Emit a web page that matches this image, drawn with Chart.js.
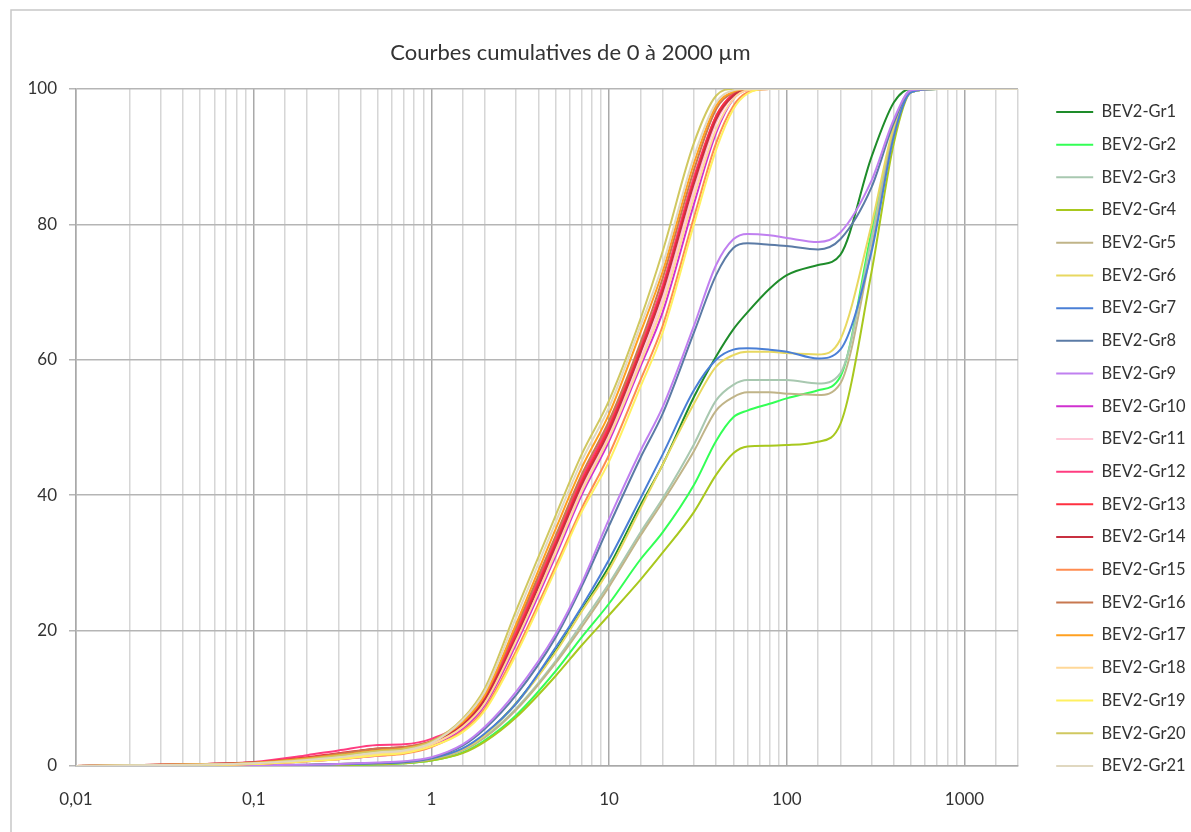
<!DOCTYPE html>
<html>
<head>
<meta charset="utf-8">
<script src="https://cdn.jsdelivr.net/npm/chart.js@4.4.0/dist/chart.umd.min.js"></script>
<style>
    body { margin: 0; background: #fff; }
    #wrap { width: 1191px; height: 832px; position: relative; }
</style>
</head>
<body>
<div id="wrap"><canvas id="GranuloChart"></canvas></div>
<script>

// tailles (µm)
var sizes = [0.01, 0.02, 0.05, 0.1, 0.2, 0.3, 0.5, 0.7, 1, 1.5, 2, 3, 5, 7, 10, 15, 20, 30, 40, 50, 60, 80, 100, 150, 200, 300, 400, 500, 700, 1000, 2000];

var seriesNames = ['BEV2-Gr1', 'BEV2-Gr2', 'BEV2-Gr3', 'BEV2-Gr4', 'BEV2-Gr5', 'BEV2-Gr6', 'BEV2-Gr7',
    'BEV2-Gr8', 'BEV2-Gr9', 'BEV2-Gr10', 'BEV2-Gr11', 'BEV2-Gr12', 'BEV2-Gr13', 'BEV2-Gr14',
    'BEV2-Gr15', 'BEV2-Gr16', 'BEV2-Gr17', 'BEV2-Gr18', 'BEV2-Gr19', 'BEV2-Gr20', 'BEV2-Gr21'];

// % cumulés
var gr1 = [0, 0.02, 0.05, 0.1, 0.15, 0.25, 0.4, 0.55, 1.0, 2.5, 4.7, 9.3, 17, 23, 29.5, 38.5, 44.5, 54.5, 60.5, 64.5, 67, 70.5, 72.5, 74, 75.5, 90, 98, 100, 100, 100, 100];
var gr2 = [0, 0.01, 0.03, 0.05, 0.1, 0.15, 0.25, 0.4, 0.8, 2.0, 3.8, 7.5, 14, 19, 24, 30.5, 34.5, 41.5, 48, 51.5, 52.5, 53.5, 54.3, 55.5, 57.5, 79, 94, 99.5, 100, 100, 100];
var gr3 = [0, 0.02, 0.05, 0.1, 0.15, 0.25, 0.4, 0.5, 1.0, 2.3, 4.3, 8.5, 15.5, 21, 27, 34.5, 39.5, 47.5, 54, 56.3, 57, 57, 57, 56.5, 58, 78, 94, 99.5, 100, 100, 100];
var gr4 = [0, 0.01, 0.03, 0.05, 0.1, 0.15, 0.25, 0.4, 0.8, 1.9, 3.6, 7.2, 13.3, 17.8, 22.3, 27.5, 31.5, 37.5, 43, 46.2, 47.2, 47.3, 47.4, 47.9, 50.5, 73, 92, 99.5, 100, 100, 100];
var gr5 = [0, 0.02, 0.05, 0.1, 0.15, 0.25, 0.4, 0.5, 1.0, 2.3, 4.2, 8.3, 15.2, 20.5, 26.5, 34, 39, 46.5, 52.5, 54.5, 55.2, 55.2, 55, 54.8, 56.5, 76.5, 93.5, 99.5, 100, 100, 100];
var gr6 = [0, 0.02, 0.05, 0.1, 0.2, 0.3, 0.45, 0.6, 1.1, 2.5, 4.6, 9.2, 16.8, 22.8, 29, 38, 44.5, 53.5, 59, 60.7, 61.2, 61.2, 61, 60.8, 63, 80, 94.5, 99.5, 100, 100, 100];
var gr7 = [0, 0.02, 0.05, 0.1, 0.15, 0.25, 0.4, 0.55, 1.1, 2.6, 4.8, 9.2, 17.5, 23.5, 30.5, 39.5, 46, 55.5, 60, 61.5, 61.7, 61.5, 61.2, 60.2, 61.5, 76, 93, 99.5, 100, 100, 100];
var gr8 = [0, 0.02, 0.05, 0.1, 0.2, 0.3, 0.45, 0.6, 1.2, 3.0, 5.5, 10.5, 19, 26.5, 35.5, 45.5, 52, 64, 72.5, 76.5, 77.2, 77, 76.8, 76.3, 77.8, 85.5, 95, 99.8, 100, 100, 100];
var gr9 = [0, 0.02, 0.05, 0.1, 0.2, 0.3, 0.5, 0.7, 1.3, 3.2, 5.8, 11, 19.5, 27, 36.5, 46.5, 53, 65, 74, 77.8, 78.6, 78.4, 78, 77.4, 78.8, 86.5, 95.5, 99.8, 100, 100, 100];
var gr10 = [0, 0.05, 0.15, 0.3, 0.7, 1.0, 1.5, 1.9, 3.0, 5.5, 9.0, 18, 31, 40, 48, 59, 67, 83, 93.5, 98.5, 99.8, 100, 100, 100, 100, 100, 100, 100, 100, 100, 100];
var gr11 = [0, 0.05, 0.2, 0.35, 0.8, 1.2, 1.8, 2.1, 3.2, 5.8, 9.5, 19, 32, 41, 49, 60, 69, 85, 95, 99, 99.9, 100, 100, 100, 100, 100, 100, 100, 100, 100, 100];
var gr12 = [0, 0.1, 0.3, 0.6, 1.6, 2.3, 3.1, 3.2, 4.0, 6.5, 10.5, 20, 33.5, 42.5, 50.5, 62, 71, 87, 96, 99.3, 100, 100, 100, 100, 100, 100, 100, 100, 100, 100, 100];
var gr13 = [0, 0.1, 0.3, 0.5, 1.3, 1.9, 2.6, 2.8, 3.6, 6.2, 10, 19.5, 33, 42, 50, 61.5, 70.5, 86.5, 96, 99.2, 100, 100, 100, 100, 100, 100, 100, 100, 100, 100, 100];
var gr14 = [0, 0.1, 0.3, 0.5, 1.2, 1.8, 2.5, 2.7, 3.5, 6.0, 9.8, 19, 32.5, 41.5, 49.5, 61, 70, 86, 95.5, 99, 99.9, 100, 100, 100, 100, 100, 100, 100, 100, 100, 100];
var gr15 = [0, 0.05, 0.15, 0.3, 0.7, 1.0, 1.5, 1.8, 2.8, 5.2, 8.5, 17, 29.5, 38, 46, 57, 65, 81, 92, 97.5, 99.5, 100, 100, 100, 100, 100, 100, 100, 100, 100, 100];
var gr16 = [0, 0.1, 0.3, 0.5, 1.2, 1.8, 2.6, 2.8, 3.7, 6.5, 10.5, 20.5, 34, 43, 51, 62.5, 72, 88, 97, 99.5, 100, 100, 100, 100, 100, 100, 100, 100, 100, 100, 100];
var gr17 = [0, 0.1, 0.25, 0.45, 1.1, 1.6, 2.3, 2.6, 3.6, 6.5, 10.5, 21, 35, 44, 52, 64, 73, 89, 97.5, 99.6, 100, 100, 100, 100, 100, 100, 100, 100, 100, 100, 100];
var gr18 = [0, 0.05, 0.2, 0.35, 0.8, 1.2, 1.8, 2.1, 3.2, 5.8, 9.3, 18.5, 31.5, 40.5, 48.5, 59.5, 68, 84, 94, 98.5, 99.8, 100, 100, 100, 100, 100, 100, 100, 100, 100, 100];
var gr19 = [0, 0.05, 0.15, 0.3, 0.7, 1.0, 1.6, 1.9, 2.9, 5.0, 8.2, 16.5, 29, 37.5, 45, 56, 64, 80, 91, 97, 99.3, 100, 100, 100, 100, 100, 100, 100, 100, 100, 100];
var gr20 = [0, 0.1, 0.2, 0.4, 1.0, 1.5, 2.2, 2.5, 3.6, 7.0, 11.5, 23, 37, 46, 54, 66, 76, 92, 99, 100, 100, 100, 100, 100, 100, 100, 100, 100, 100, 100, 100];
var gr21 = [0, 0.1, 0.2, 0.4, 0.9, 1.3, 2.0, 2.3, 3.4, 6.8, 11, 22, 36, 45, 53, 65, 74, 90, 98, 99.8, 100, 100, 100, 100, 100, 100, 100, 100, 100, 100, 100];

var allSeries = [gr1, gr2, gr3, gr4, gr5, gr6, gr7, gr8, gr9, gr10, gr11, gr12, gr13, gr14,
    gr15, gr16, gr17, gr18, gr19, gr20, gr21];

var colors = ['#1e8c2a', '#33ff55', '#a8c8b0', '#a8c81e', '#c0b488', '#e8d860', '#4a7fd6',
    '#5b7ba6', '#c080f0', '#d030d0', '#ffc8d8', '#ff3c80', '#ff3040', '#c83040',
    '#ff8c50', '#c87850', '#ffa020', '#ffd898', '#fff060', '#d0c860', '#e0d8c0'];

var yTicks = [0, 20, 40, 60, 80, 100];

function isDecade(v) {
    var l = Math.log10(v);
    return Math.abs(l - Math.round(l)) < 1e-9;
}

var cadre = {
    id: 'cadre',
    afterInit: function (chart) {
        // legende : largeur fixe
        var legend = chart.legend;
        var fit = legend.fit;
        legend.fit = function () {
            fit.call(this);
            this.width = 151;
        };
    },
    afterLayout: function (chart) {
        // titre un peu decale vers la gauche
        chart.titleBlock.right = chart.width - 50;
    },
    beforeDraw: function (chart) {
        var ctx = chart.ctx;
        ctx.save();
        ctx.fillStyle = '#fff';
        ctx.fillRect(0, 0, chart.width, chart.height);
        ctx.strokeStyle = '#c8c8c8';
        ctx.lineWidth = 1.5;
        ctx.beginPath();
        ctx.moveTo(11, chart.height);
        ctx.lineTo(11, 10);
        ctx.lineTo(chart.width, 10);
        ctx.stroke();
        ctx.restore();
    }
};

var datasets = [];
allSeries.forEach(function (serie, i) {
    datasets.push({
        label: seriesNames[i],
        data: serie,
        borderColor: colors[i],
        backgroundColor: colors[i],
        borderWidth: 2,
        pointRadius: 0,
        fill: false,
        cubicInterpolationMode: 'monotone',
        order: allSeries.length - 1 - i
    });
});

Chart.defaults.font.family = 'Lato';
Chart.defaults.color = '#333';

var GranuloChart = new Chart(
    document.getElementById('GranuloChart'), {
    type: 'line',
    data: {
        labels: sizes,
        datasets: datasets
    },
    options: {
        responsive: true,
        maintainAspectRatio: false,
        animation: false,
        layout: { padding: 0 },
        plugins: {
            title: {
                display: true,
                text: 'Courbes cumulatives de 0 à 2000 µm',
                color: '#333',
                font: { size: 22, weight: 'normal' },
                padding: { top: 40, bottom: 22.6 }
            },
            legend: {
                position: 'right',
                align: 'start',
                title: {
                    display: true,
                    text: '',
                    font: { size: 10, lineHeight: 1 },
                    padding: { top: 77.5, bottom: 0 }
                },
                labels: {
                    usePointStyle: true,
                    pointStyle: 'line',
                    pointStyleWidth: 37,
                    font: { size: 16.5 },
                    color: '#333',
                    padding: 16.2,
                    sort: function (a, b) { return a.datasetIndex - b.datasetIndex; }
                }
            },
            tooltip: { enabled: false }
        },
        scales: {
            x: {
                type: 'logarithmic',
                min: 0.01,
                max: 2000,
                afterFit: function (scale) { scale.height = 66; },
                grid: {
                    color: function (ctx) {
                        return (ctx.tick && isDecade(ctx.tick.value)) ? '#a9a9a9' : '#d6d6d6';
                    },
                    lineWidth: 1.5,
                    drawTicks: false
                },
                border: { color: '#a9a9a9', width: 1.5 },
                ticks: {
                    autoSkip: false,
                    maxRotation: 0,
                    padding: 23,
                    font: { size: 17 },
                    color: '#333',
                    callback: function (value) {
                        if (isDecade(value)) {
                            return String(value).replace('.', ',');
                        }
                        return '';
                    }
                }
            },
            y: {
                min: 0,
                max: 100,
                afterFit: function (scale) { scale.width = 76; },
                afterBuildTicks: function (scale) {
                    scale.ticks = yTicks.map(function (v) { return { value: v }; });
                },
                grid: { color: '#b5b5b5', lineWidth: 1.5, tickLength: 7 },
                border: { color: '#a9a9a9', width: 1.5 },
                ticks: { padding: 12, font: { size: 17 }, color: '#333' }
            },
            y2: {
                position: 'right',
                display: true,
                afterFit: function (scale) { scale.width = 22; },
                grid: { display: false },
                border: { display: false },
                ticks: { display: false }
            }
        }
    },
    plugins: [cadre]
});
</script>
</body>
</html>
